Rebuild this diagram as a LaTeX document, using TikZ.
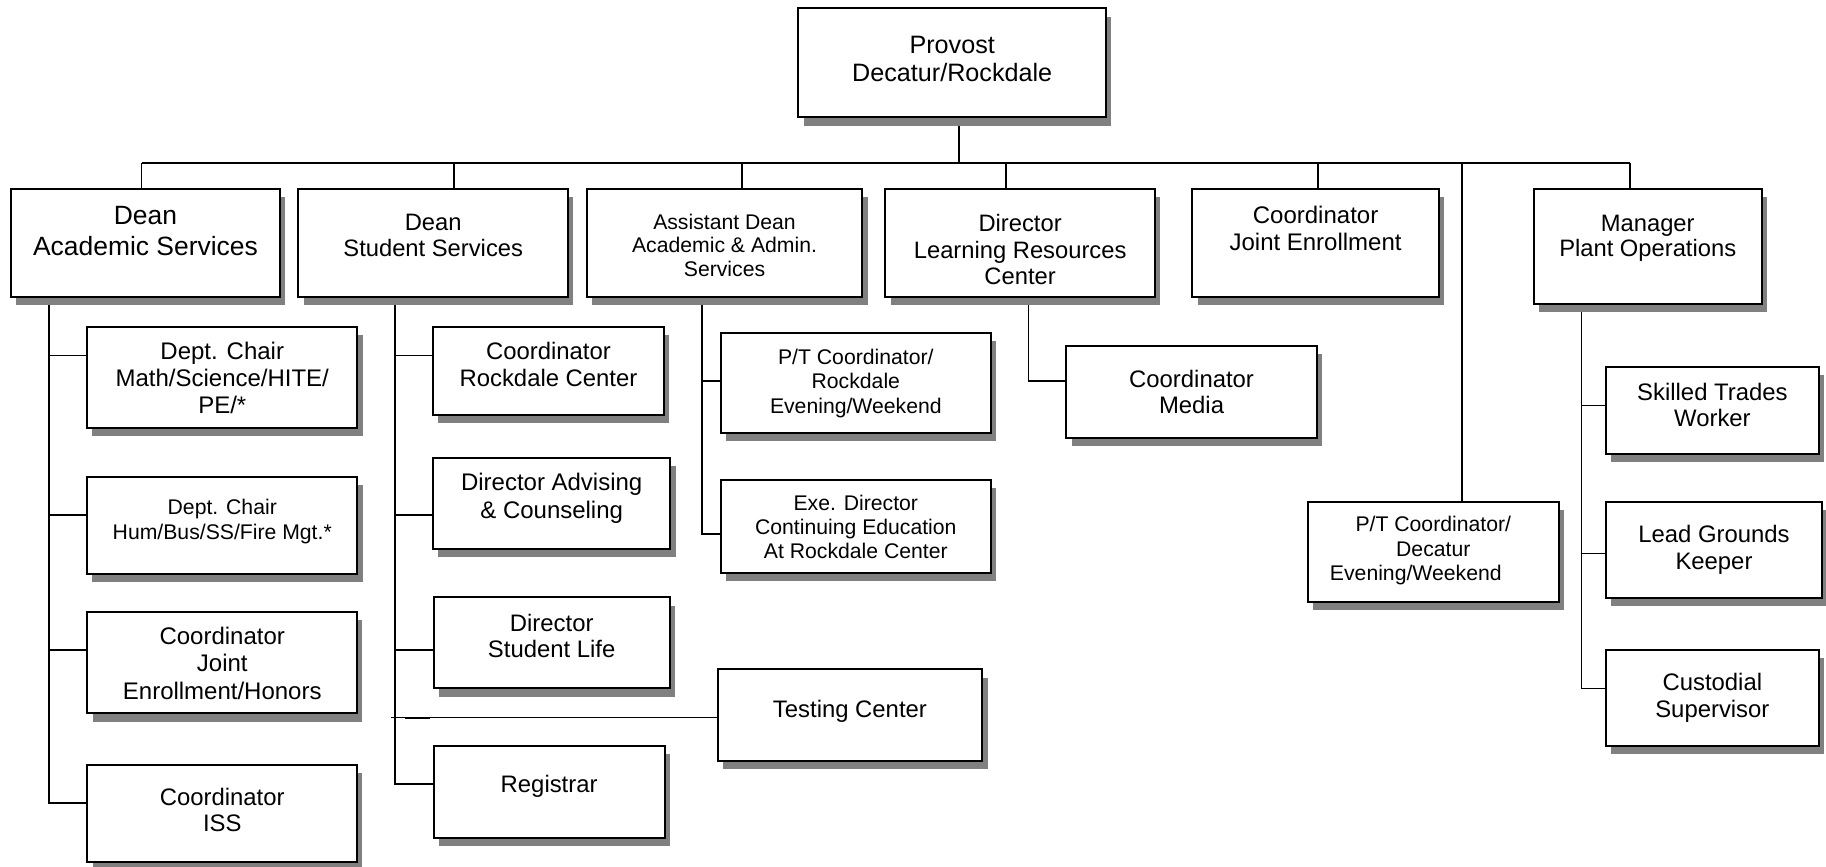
\documentclass[tikz,border=0pt]{standalone}
\usepackage{fontspec}
\setmainfont{Liberation Sans}
\usetikzlibrary{shadows}
\definecolor{shgray}{RGB}{128,128,128}
\newcommand\fsz[2]{\fontsize{#1}{#2}\selectfont}
\pgfdeclarelayer{bg}
\pgfsetlayers{bg,main}
\begin{document}
\begin{tikzpicture}[x=1pt,y=-1pt,
  box/.style={draw=black, line width=1.7pt, fill=white, inner sep=0pt,
    drop shadow={shadow xshift=4.5pt, shadow yshift=-7pt, fill=shgray, opacity=1}},
  lbl/.style={anchor=base, align=center, inner sep=0pt, text=black},
  conn/.style={draw=black, line width=1.4pt},
  thinconn/.style={draw=black, line width=0.9pt},
  big/.style={font=\fsz{20.5}{22.9}},
  small/.style={font=\fsz{18.2}{21}}]
\useasboundingbox (0,0) rectangle (1568,744);

% ---------- boxes ----------
\node[box, minimum width=264.3pt, minimum height=93.6pt] (provost) at (817.65,54) {};
\node[box, minimum width=231.4pt, minimum height=92.5pt] (deanA) at (124.9,208.55) {};
\node[box, minimum width=231.4pt, minimum height=92.5pt] (deanS) at (372,208.55) {};
\node[box, minimum width=236.9pt, minimum height=93pt] (asst) at (622.15,208.8) {};
\node[box, minimum width=231.4pt, minimum height=92.5pt] (lrc) at (876,208.55) {};
\node[box, minimum width=211.6pt, minimum height=92.5pt] (cje) at (1129.7,208.55) {};
\node[box, minimum width=196pt, minimum height=99pt] (mgr) at (1414.9,211.8) {};
\node[box, minimum width=231.9pt, minimum height=87.3pt] (math) at (190.85,324.15) {};
\node[box, minimum width=231.9pt, minimum height=83.6pt] (hum) at (190.85,451.1) {};
\node[box, minimum width=231.7pt, minimum height=87.3pt] (jeh) at (190.85,568.95) {};
\node[box, minimum width=231.7pt, minimum height=83pt] (iss) at (190.85,698.5) {};
\node[box, minimum width=198.4pt, minimum height=75.9pt] (crock) at (471,318.45) {};
\node[box, minimum width=203.9pt, minimum height=78.7pt] (dadv) at (473.75,432.35) {};
\node[box, minimum width=202.7pt, minimum height=78.1pt] (dsl) at (473.75,552.05) {};
\node[box, minimum width=227.3pt, minimum height=78.7pt] (test) at (729.85,614.15) {};
\node[box, minimum width=198.3pt, minimum height=79pt] (reg) at (471.55,679.8) {};
\node[box, minimum width=231.4pt, minimum height=85.9pt] (ptrock) at (734.9,329.15) {};
\node[box, minimum width=231.4pt, minimum height=80.1pt] (exe) at (734.9,452.25) {};
\node[box, minimum width=215pt, minimum height=79.6pt] (media) at (1023.2,336.6) {};
\node[box, minimum width=215.3pt, minimum height=85.9pt] (ptdec) at (1230.75,473.75) {};
\node[box, minimum width=183.3pt, minimum height=75pt] (skill) at (1470.45,352.4) {};
\node[box, minimum width=186pt, minimum height=82.4pt] (lead) at (1471.8,472) {};
\node[box, minimum width=183.2pt, minimum height=82.4pt] (cust) at (1470.4,599.4) {};

% ---------- texts (anchored at the baseline of the last line) ----------
\node[lbl, font=\fsz{21.6}{23.8}] (provost-t) at (817.65,69.6) {Provost\\Decatur/Rockdale};
\node[lbl, font=\fsz{22.7}{25.8}] (deanA-t) at (124.9,219) {Dean\\Academic Services};
\node[lbl, font=\fsz{20.4}{21.8}] (deanS-t) at (372,219.9) {Dean\\Student Services};
\node[lbl, font=\fsz{18.2}{20.3}] (asst-t) at (622.15,237.5) {Assistant Dean\\Academic \& Admin.\\Services};
\node[lbl, font=\fsz{20.4}{22.9}] (lrc-t) at (876,244.7) {Director\\Learning Resources\\Center};
\node[lbl, font=\fsz{20.6}{22.9}] (cje-t) at (1129.7,214.7) {Coordinator\\Joint Enrollment};
\node[lbl, font=\fsz{20.4}{21.5}] (mgr-t) at (1414.9,219.9) {Manager\\Plant Operations};
\node[lbl, font=\fsz{20.6}{22.9}] (math-t) at (190.85,354.9) {Dept. Chair\\Math/Science/HITE/\\PE/*};
\node[lbl, font=\fsz{18.2}{21.5}] (hum-t) at (190.85,463.2) {Dept. Chair\\Hum/Bus/SS/Fire Mgt.*};
\node[lbl, font=\fsz{20.6}{23.5}] (jeh-t) at (190.85,600.3) {Coordinator\\Joint\\Enrollment/Honors};
\node[lbl, big] (iss-t) at (190.85,714.2) {Coordinator\\ISS};
\node[lbl, big] (crock-t) at (471,332) {Coordinator\\Rockdale Center};
\node[lbl, font=\fsz{20.6}{23.5}] (dadv-t) at (473.75,445.1) {Director Advising\\\& Counseling};
\node[lbl, font=\fsz{20.5}{22.6}] (dsl-t) at (473.75,564.5) {Director\\Student Life};
\node[lbl, big] (test-t) at (729.85,616.3) {Testing Center};
\node[lbl, big] (reg-t) at (471.55,680.4) {Registrar};
\node[lbl, font=\fsz{18.2}{21.2}] (ptrock-t) at (734.9,355) {P/T Coordinator/\\Rockdale\\Evening/Weekend};
\node[lbl, font=\fsz{18.2}{20.8}] (exe-t) at (734.9,479.6) {Exe. Director\\Continuing Education\\At Rockdale Center};
\node[lbl, big] (media-t) at (1023.2,355.5) {Coordinator\\Media};
\node[lbl, small] (ptdec-t) at (1230.75,498.6) {P/T Coordinator/\\Decatur\\Evening/Weekend\hspace*{30pt}};
\node[lbl, big] (skill-t) at (1470.45,366.4) {Skilled Trades\\Worker};
\node[lbl, big] (lead-t) at (1471.8,488.6) {Lead Grounds\\Keeper};
\node[lbl, big] (cust-t) at (1470.4,616) {Custodial\\Supervisor};

% ---------- connector coordinates ----------
\coordinate (pv) at (823.5,140);
\coordinate (b1) at (121.6,140);
\coordinate (b2) at (390.1,140);
\coordinate (b3) at (637.1,140);
\coordinate (b4) at (863.8,140);
\coordinate (b5) at (1131.8,140);
\coordinate (b6) at (1255.5,140);
\coordinate (b7) at (1399.7,140);
\coordinate (ta) at (42.1,0);
\coordinate (ts) at (339.3,0);
\coordinate (tad) at (602.8,0);
\coordinate (tl) at (883.3,0);
\coordinate (tm) at (1358.1,0);
\coordinate (y1) at (0,305.4);
\coordinate (y2) at (0,442.3);
\coordinate (y3) at (0,558.2);
\coordinate (y4) at (0,689.3);
\coordinate (y5) at (0,673.3);
\coordinate (yr1) at (0,327);
\coordinate (yr2) at (0,458.4);
\coordinate (ym1) at (0,348.1);
\coordinate (ym2) at (0,475.2);
\coordinate (ym3) at (0,591.1);
\coordinate (tst) at (335.5,616.3);
\coordinate (thk1) at (347.8,616.3);
\coordinate (thk2) at (369.3,616.3);

% ---------- connectors ----------
\begin{pgfonlayer}{bg}
\fill[white] (0,0) rectangle (1568,744);
\draw[conn] (pv |- provost.south) -- (pv);
\draw[conn] (b1) -- (b7);
\foreach \b/\n in {b1/deanA,b2/deanS,b3/asst,b4/lrc,b5/cje,b7/mgr}
  \draw[conn] (\b) -- (\b |- \n.north);
\draw[conn] (b6) -- (b6 |- ptdec.north);
% Dean Academic Services
\draw[conn] (ta |- deanA.south) -- (ta |- y4) -- (iss.west |- y4);
\draw[conn] (ta |- y1) -- (math.west |- y1);
\draw[conn] (ta |- y2) -- (hum.west |- y2);
\draw[conn] (ta |- y3) -- (jeh.west |- y3);
% Dean Student Services
\draw[conn] (ts |- deanS.south) -- (ts |- y5) -- (reg.west |- y5);
\draw[conn] (ts |- y1) -- (crock.west |- y1);
\draw[conn] (ts |- y2) -- (dadv.west |- y2);
\draw[conn] (ts |- y3) -- (dsl.west |- y3);
\draw[thinconn] (tst) -- (test.west |- tst);
\draw[conn] (thk1) -- (thk2);
% Assistant Dean
\draw[conn] (tad |- asst.south) -- (tad |- yr2) -- (exe.west |- yr2);
\draw[conn] (tad |- yr1) -- (ptrock.west |- yr1);
% LRC
\draw[conn] (tl |- lrc.south) -- (tl |- yr1) -- (media.west |- yr1);
% Manager
\draw[conn] (tm |- mgr.south) -- (tm |- ym3) -- (cust.west |- ym3);
\draw[conn] (tm |- ym1) -- (skill.west |- ym1);
\draw[conn] (tm |- ym2) -- (lead.west |- ym2);
\end{pgfonlayer}
\end{tikzpicture}
\end{document}
